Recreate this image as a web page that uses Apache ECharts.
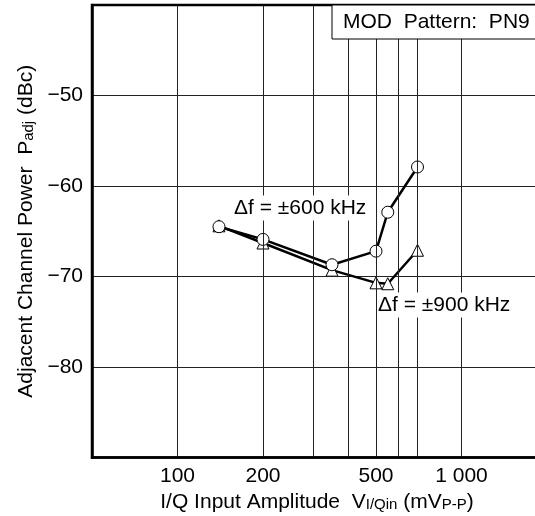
<!DOCTYPE html>
<html>
<head>
<meta charset="utf-8">
<script src="https://cdn.jsdelivr.net/npm/echarts@6/dist/echarts.min.js"></script>
<style>html,body{margin:0;padding:0;background:#fff;overflow:hidden;width:535px;height:516px}#c{width:550px;height:516px}</style>
</head>
<body>
<div id="c"></div>
<script>
// Data
const amp600 = [140, 200, 350, 500, 550, 700];
const pAdj600 = [-64.5, -65.9, -68.7, -67.2, -62.9, -57.9];
const amp900 = [140, 200, 350, 500, 550, 700];
const pAdj900 = [-64.4, -66.3, -69.3, -70.7, -70.8, -67.1];
const xGridValues = [100, 200, 300, 400, 500, 600, 700, 1000];
const xTickLabels = [100, 200, 500, 1000];
const yTicks = [-80, -70, -60, -50];

const FONT = 'Liberation Sans, Arial, sans-serif';
const chart = echarts.init(document.getElementById('c'), null, {renderer: 'canvas'});

function pairs(xs, ys) { return xs.map((x, i) => [x, ys[i]]); }

const option = {
  animation: false,
  backgroundColor: '#fff',
  textStyle: {fontFamily: FONT},
  grid: {left: 92, top: 5, right: 3, bottom: 58.5, outerBoundsMode: 'none', containLabel: false,
         show: true, borderColor: '#000', borderWidth: 2.5, backgroundColor: 'transparent', z: 10},
  xAxis: {
    type: 'log', logBase: 10, min: 50, max: 2000,
    axisLine: {show: true, lineStyle: {color: '#000', width: 2.5}},
    axisTick: {show: false},
    splitLine: {show: false},
    axisLabel: {
      customValues: xTickLabels,
      fontSize: 21, color: '#000', fontFamily: FONT, margin: 8,
      formatter: v => v === 1000 ? '1 000' : String(v)
    },
    name: '{n|I/Q Input Amplitude  V}{s|I/Qin}{n| (mV}{s|P-P}{n|)}',
    nameLocation: 'middle', nameGap: 26,
    nameTextStyle: {
      color: '#000', fontFamily: FONT, padding: [0, 5, 0, 0],
      rich: {n: {fontSize: 21, fontFamily: FONT, color: '#000', verticalAlign: 'bottom'},
             s: {fontSize: 15, fontFamily: FONT, color: '#000', verticalAlign: 'bottom'}}
    }
  },
  yAxis: {
    type: 'value', min: -90, max: -40, interval: 10,
    axisLine: {show: true, lineStyle: {color: '#000', width: 2.5}},
    axisTick: {show: false},
    splitLine: {show: true, lineStyle: {color: '#222', width: 1}},
    axisLabel: {
      fontSize: 21, color: '#000', fontFamily: FONT, margin: 9,
      formatter: v => yTicks.includes(v) ? '\u2212' + Math.abs(v) : ''
    },
    name: '{n|Adjacent Channel Power  P}{s|adj}{n| (dBc)}',
    nameLocation: 'middle', nameGap: 55, nameRotate: 90,
    nameTextStyle: {
      color: '#000', fontFamily: FONT,
      rich: {n: {fontSize: 21, fontFamily: FONT, color: '#000', verticalAlign: 'bottom'},
             s: {fontSize: 15, fontFamily: FONT, color: '#000', verticalAlign: 'bottom'}}
    }
  },
  series: [
    {
      type: 'line', data: [], z: 1, silent: true,
      markLine: {
        silent: true, symbol: 'none', animation: false,
        label: {show: false},
        lineStyle: {color: '#222', width: 1, type: 'solid'},
        data: xGridValues.map(v => ({xAxis: v}))
      }
    },
    {
      type: 'line', data: pairs(amp900, pAdj900), z: 3,
      symbol: 'triangle', symbolSize: 12,
      lineStyle: {color: '#000', width: 2.5},
      itemStyle: {color: '#fff', borderColor: '#000', borderWidth: 1}
    },
    {
      type: 'line', data: pairs(amp600, pAdj600), z: 4,
      symbol: 'circle', symbolSize: 12,
      lineStyle: {color: '#000', width: 2.5},
      itemStyle: {color: '#fff', borderColor: '#000', borderWidth: 1}
    }
  ],
  graphic: [
    {type: 'rect', z: 50, shape: {x: 332, y: 5, width: 230, height: 34},
     style: {fill: '#fff', stroke: '#000', lineWidth: 1}},
    {type: 'text', z: 51, x: 343, y: 22,
     style: {text: 'MOD  Pattern:  PN9', font: '21px ' + FONT, fill: '#000', verticalAlign: 'middle'}},
    {type: 'text', z: 51, x: 233, y: 208,
     style: {text: '\u0394f = \u00b1600 kHz', font: '21px ' + FONT, fill: '#000', verticalAlign: 'middle', backgroundColor: '#fff', padding: [2, 1]}},
    {type: 'text', z: 51, x: 377, y: 305,
     style: {text: '\u0394f = \u00b1900 kHz', font: '21px ' + FONT, fill: '#000', verticalAlign: 'middle', backgroundColor: '#fff', padding: [2, 1]}}
  ]
};
chart.setOption(option);
</script>
</body>
</html>
